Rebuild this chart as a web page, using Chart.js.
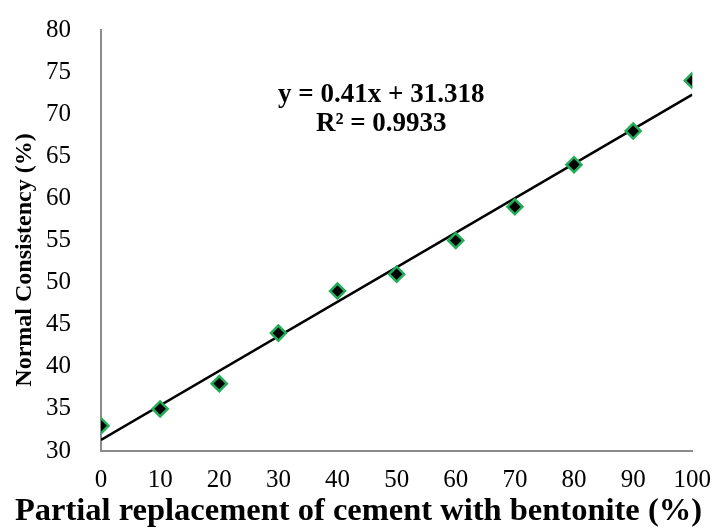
<!DOCTYPE html>
<html>
<head>
<meta charset="utf-8">
<script src="https://cdn.jsdelivr.net/npm/chart.js@4"></script>
<style>
  html, body { margin: 0; padding: 0; background: #fff; }
  #wrap { width: 717px; height: 532px; }
</style>
</head>
<body>
<div id="wrap"><canvas id="myChart" width="717" height="532"></canvas></div>
<script>
// DATA
const replacement = [0, 10, 20, 30, 40, 50, 60, 70, 80, 90, 100];
const consistency = [33, 35, 38, 44, 49, 51, 55, 59, 64, 68, 74];
const trendSlope = 0.41;
const trendIntercept = 31.318;
const equationText = ["y = 0.41x + 31.318", "R\u00b2 = 0.9933"];
const xTitle = 'Partial replacement of cement with bentonite (%)';
const yTitle = 'Normal Consistency (%)';

const serif = "'Liberation Serif', 'Times New Roman', serif";

const points = replacement.map((x, i) => ({ x: x, y: consistency[i] }));
const trend = [0, 100].map(x => ({ x: x, y: trendIntercept + trendSlope * x }));

// equation + axis titles (centered on the whole picture like the excel export)
const labelsPlugin = {
    id: 'labels',
    afterDraw(chart) {
        const ctx = chart.ctx;
        const area = chart.chartArea;
        const cx = area.left + (area.right - area.left) * 0.474;
        ctx.save();
        ctx.fillStyle = '#000';
        ctx.textAlign = 'center';
        ctx.textBaseline = 'middle';

        ctx.font = "bold 27px " + serif;
        ctx.fillText(equationText[0], cx, 95);
        ctx.fillText(equationText[1], cx, 124);

        ctx.font = "bold 32.5px " + serif;
        ctx.fillText(xTitle, chart.width / 2, 512);

        ctx.translate(25, 260);
        ctx.rotate(-Math.PI / 2);
        ctx.font = "bold 24px " + serif;
        ctx.fillText(yTitle, 0, 0);
        ctx.restore();
    }
};

const myChart = document.getElementById('myChart');

new Chart(myChart, {
    type: 'scatter',
    data: {
        datasets: [
            {
                label: 'Trend',
                type: 'line',
                data: trend,
                borderColor: '#000',
                borderWidth: 2.5,
                pointRadius: 0,
                fill: false,
                order: 2
            },
            {
                label: 'Normal Consistency',
                data: points,
                pointStyle: 'rectRot',
                pointRadius: 7.5,
                backgroundColor: '#000',
                borderColor: '#22ad58',
                borderWidth: 2.5,
                order: 1
            }
        ]
    },
    options: {
        responsive: false,
        animation: false,
        layout: { padding: { top: 30, right: 20, left: 0, bottom: 0 } },
        plugins: {
            legend: { display: false },
            tooltip: { enabled: false }
        },
        scales: {
            x: {
                type: 'linear',
                min: 0,
                max: 100,
                ticks: {
                    stepSize: 10,
                    color: '#000',
                    padding: 6,
                    font: { family: serif, size: 25 }
                },
                grid: { display: false },
                border: { display: true, color: '#8c8c8c', width: 2 },
                afterFit(scale) { scale.height = 81; }
            },
            y: {
                min: 30,
                max: 80,
                ticks: {
                    stepSize: 5,
                    color: '#000',
                    padding: 22,
                    font: { family: serif, size: 25 }
                },
                grid: { display: false },
                border: { display: true, color: '#8c8c8c', width: 2 },
                afterFit(scale) {
                    scale.width = 101;
                    scale.paddingTop = 0;
                    scale.paddingBottom = 0;
                }
            }
        }
    },
    plugins: [labelsPlugin]
});
</script>
</body>
</html>
